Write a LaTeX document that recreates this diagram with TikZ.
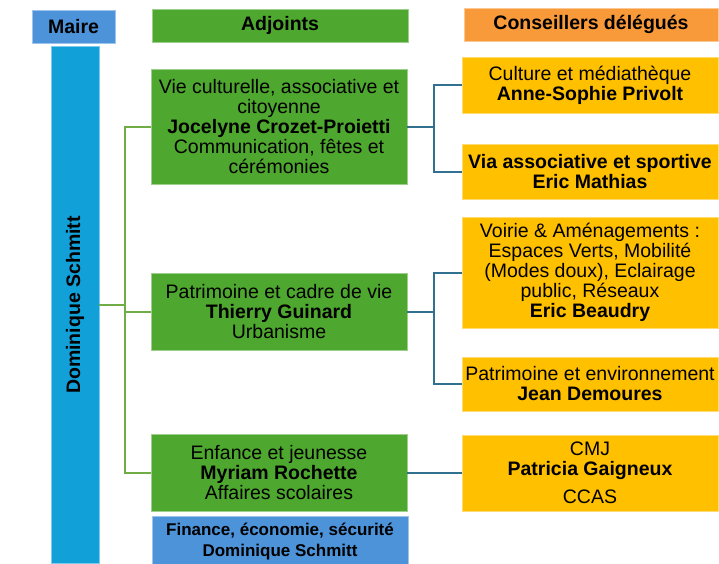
\documentclass[tikz,border=0pt]{standalone}
\usepackage{fontspec}
\setmainfont{Liberation Sans}
\usepackage{tikz}
\definecolor{mairebleu}{HTML}{4C93D9}
\definecolor{barbleu}{HTML}{12A0D8}
\definecolor{adjvert}{HTML}{4EA72E}
\definecolor{consorange}{HTML}{F89A3A}
\definecolor{consjaune}{HTML}{FFC000}
\definecolor{lienvert}{HTML}{70AD47}
\definecolor{lienbleu}{HTML}{31708F}

\begin{document}
\begin{tikzpicture}[x=1pt,y=-1pt,
    box/.style={fill=#1, draw=#1!55!white, line width=0.8pt, inner sep=0pt, align=center,
                font=\fontsize{19.5}{20}\selectfont},
    adj/.style={box=adjvert, minimum width=256, minimum height=#1},
    cons/.style={box=consjaune, minimum width=256, minimum height=#1},
    gline/.style={lienvert, line width=2pt},
    bline/.style={lienbleu, line width=2pt}]
    \useasboundingbox (0,0) rectangle (719,563);
    % en-tetes
    \node[box=mairebleu, minimum width=83, minimum height=33] (maire) at (73.5,26.5) {\bfseries Maire};
    \node[box=adjvert, minimum width=256, minimum height=33] (adjoints) at (280,25.5) {\bfseries Adjoints};
    \node[box=consorange, minimum width=254, minimum height=33] (conseillers) at (591,24.5) {\bfseries Conseillers délégués};
    % maire
    \node[box=barbleu, minimum width=48, minimum height=517] (bar) at (75,304.5) {};
    \node[rotate=90, font=\fontsize{19.5}{20}\selectfont\bfseries] (mairenom) at (75,305) {Dominique Schmitt};
    % adjoints
    \node[adj=115] (g1) at (279,126.5) {Vie culturelle, associative et\\ citoyenne\\ \textbf{Jocelyne Crozet-Proietti}\\ Communication, fêtes et\\ cérémonies};
    \node[adj=77] (g2) at (279,311.5) {Patrimoine et cadre de vie\\ \textbf{Thierry Guinard}\\ Urbanisme};
    \node[adj=77] (g3) at (279,472.5) {Enfance et jeunesse\\ \textbf{Myriam Rochette}\\ Affaires scolaires};
    \node[box=mairebleu, minimum width=256, minimum height=52, font=\fontsize{17}{21}\selectfont\bfseries] (finance) at (280,542) {Finance, économie, sécurité\\ Dominique Schmitt};
    % conseillers delegues
    \node[cons=56] (y1) at (590,85) {Culture et médiathèque\\ \textbf{Anne-Sophie Privolt}};
    \node[cons=55] (y2) at (590,171.5) {\textbf{Via associative et sportive}\\ \textbf{Eric Mathias}};
    \node[cons=111] (y3) at (590,272.5) {Voirie \& Aménagements :\\ Espaces Verts, Mobilité\\ (Modes doux), Eclairage\\ public, Réseaux\\ \textbf{Eric Beaudry}};
    \node[cons=54] (y4) at (590,384) {Patrimoine et environnement\\ \textbf{Jean Demoures}};
    \node[cons=76] (y5) at (590,473) {CMJ\\ \textbf{Patricia Gaigneux}\\[8pt] CCAS};
    % liens
    \draw[gline] (bar.east) -- ++(26,0);
    \draw[gline] (g1.west) -- ++(-26,0) |- (g3.west);
    \draw[gline] (g2.west) -- ++(-26,0);
    \draw[bline] (g1.east) -- ++(27,0);
    \draw[bline] (y1.west) -- ++(-28,0) |- (y2.west);
    \draw[bline] (g2.east) -- ++(27,0);
    \draw[bline] (y3.west) -- ++(-28,0) |- (y4.west);
    \draw[bline] (g3.east) -- (g3.east -| y5.west);
\end{tikzpicture}
\end{document}
